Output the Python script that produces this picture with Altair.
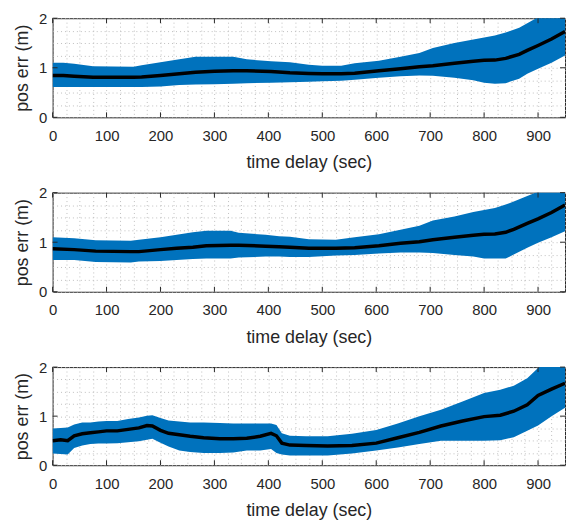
import altair as alt
import pandas as pd

X_DOMAIN = [0, 950]
Y_DOMAIN = [0, 2]
x_major = [0, 100, 200, 300, 400, 500, 600, 700, 800, 900]
y_major = [0, 1, 2]
x_minor = list(range(0, 951, 25))
y_minor = [0, 0.25, 0.5, 0.75, 1, 1.25, 1.5, 1.75, 2]

x_title = "time delay (sec)"
y_title = "pos err (m)"

# panel 1
t1 = [0, 20, 40, 75, 150, 165, 200, 235, 265, 300, 335, 360, 405, 440, 475, 500, 535, 560, 605, 645,
      680, 705, 745, 780, 800, 820, 840, 865, 880, 900, 925, 950]
m1 = [0.845, 0.845, 0.83, 0.81, 0.81, 0.815, 0.845, 0.88, 0.91, 0.93, 0.94, 0.94, 0.925, 0.90, 0.885, 0.88, 0.88, 0.89, 0.94, 0.98,
      1.02, 1.04, 1.09, 1.13, 1.15, 1.155, 1.19, 1.27, 1.35, 1.45, 1.58, 1.73]
lo1 = [0.61, 0.61, 0.61, 0.61, 0.61, 0.61, 0.62, 0.65, 0.66, 0.67, 0.68, 0.69, 0.70, 0.71, 0.72, 0.73, 0.74, 0.76, 0.80, 0.83,
       0.845, 0.84, 0.80, 0.75, 0.70, 0.68, 0.69, 0.78, 0.88, 0.98, 1.10, 1.25]
up1 = [1.10, 1.10, 1.08, 1.03, 1.02, 1.05, 1.11, 1.17, 1.22, 1.22, 1.22, 1.17, 1.13, 1.11, 1.06, 1.04, 1.04, 1.09, 1.14, 1.22,
       1.30, 1.40, 1.50, 1.57, 1.61, 1.65, 1.71, 1.81, 1.90, 2.02, 2.12, 2.22]

# panel 2
t2 = [0, 40, 80, 145, 160, 200, 230, 260, 285, 330, 345, 395, 420, 440, 475, 525, 560, 605, 645, 680,
      705, 745, 780, 800, 820, 840, 855, 880, 900, 925, 950]
m2 = [0.87, 0.85, 0.82, 0.81, 0.81, 0.85, 0.88, 0.90, 0.93, 0.94, 0.94, 0.92, 0.91, 0.90, 0.88, 0.88, 0.89, 0.93, 0.98, 1.01,
      1.05, 1.10, 1.14, 1.16, 1.165, 1.20, 1.26, 1.38, 1.47, 1.60, 1.75]
lo2 = [0.64, 0.64, 0.60, 0.59, 0.61, 0.62, 0.64, 0.66, 0.67, 0.67, 0.69, 0.71, 0.71, 0.70, 0.70, 0.73, 0.74, 0.77, 0.79, 0.79,
       0.78, 0.74, 0.71, 0.67, 0.67, 0.67, 0.75, 0.89, 0.99, 1.10, 1.22]
up2 = [1.10, 1.08, 1.04, 1.03, 1.05, 1.10, 1.15, 1.20, 1.23, 1.23, 1.19, 1.15, 1.12, 1.11, 1.06, 1.05, 1.10, 1.16, 1.25, 1.33,
       1.44, 1.52, 1.61, 1.65, 1.69, 1.76, 1.82, 1.93, 2.02, 2.12, 2.22]

# panel 3
t3 = [0, 15, 28, 40, 55, 70, 85, 100, 120, 140, 160, 175, 185, 200, 215, 235, 255, 280, 310, 335,
      360, 385, 405, 415, 425, 440, 470, 510, 555, 600, 640, 680, 720, 760, 800, 830, 855, 880, 900, 925, 950]
m3 = [0.50, 0.52, 0.50, 0.60, 0.64, 0.66, 0.68, 0.70, 0.70, 0.73, 0.76, 0.81, 0.80, 0.71, 0.65, 0.62, 0.59, 0.56, 0.54, 0.54,
      0.55, 0.59, 0.65, 0.60, 0.45, 0.41, 0.40, 0.39, 0.40, 0.45, 0.56, 0.67, 0.80, 0.90, 0.99, 1.02, 1.10, 1.23, 1.42, 1.55, 1.67]
lo3 = [0.24, 0.23, 0.22, 0.35, 0.40, 0.43, 0.44, 0.44, 0.45, 0.47, 0.49, 0.52, 0.54, 0.46, 0.38, 0.30, 0.27, 0.25, 0.25, 0.26,
       0.30, 0.30, 0.33, 0.25, 0.22, 0.20, 0.20, 0.20, 0.24, 0.30, 0.36, 0.43, 0.50, 0.50, 0.50, 0.51, 0.57, 0.70, 0.81, 1.00, 1.17]
up3 = [0.75, 0.76, 0.77, 0.83, 0.87, 0.87, 0.89, 0.90, 0.90, 0.94, 0.97, 1.01, 1.02, 0.96, 0.91, 0.89, 0.87, 0.87, 0.86, 0.85,
       0.85, 0.85, 0.85, 0.82, 0.65, 0.60, 0.59, 0.59, 0.64, 0.72, 0.85, 1.00, 1.13, 1.30, 1.47, 1.54, 1.62, 1.77, 1.98, 2.12, 2.22]

W = 517
FONT = "Liberation Sans, Arial, sans-serif"
AX = "#262626"
BAND = "#0072BD"
TICK = 5


def panel(t, m, lo, up, h):
    df = pd.DataFrame({"t": t, "m": m, "lo": lo, "up": up})
    xs = alt.Scale(domain=X_DOMAIN, nice=False, zero=False)
    ys = alt.Scale(domain=Y_DOMAIN, nice=False, zero=False)
    xaxis = alt.Axis(values=x_minor, labelExpr="datum.value % 100 == 0 ? datum.label : ''",
                     title=x_title, grid=True, domain=False, ticks=False, labelPadding=11,
                     titlePadding=11, labelFlush=False)
    yaxis = alt.Axis(values=y_minor, labelExpr="datum.value % 1 == 0 ? format(datum.value, 'd') : ''",
                     title=y_title, grid=True, domain=False, ticks=False, labelPadding=6,
                     titlePadding=7)
    X = lambda f: alt.X(f, scale=xs, axis=xaxis, title=x_title)
    Y = lambda f: alt.Y(f, scale=ys, axis=yaxis, title=y_title)
    band = alt.Chart(df).mark_area(color=BAND, clip=True, opacity=1).encode(
        x=X("t:Q"), y=Y("lo:Q"), y2="up:Q",
    )
    line = alt.Chart(df).mark_line(color="black", strokeWidth=3.5, clip=True).encode(
        x=X("t:Q"), y=Y("m:Q"),
    )
    xt = pd.DataFrame({"v": x_major})
    yt = pd.DataFrame({"v": y_major})
    bot = alt.Chart(xt).mark_rule(color=AX, strokeWidth=1).encode(
        x=X("v:Q"), y=alt.value(h), y2=alt.value(h - TICK))
    top = alt.Chart(xt).mark_rule(color=AX, strokeWidth=1).encode(
        x=X("v:Q"), y=alt.value(0), y2=alt.value(TICK))
    left = alt.Chart(yt).mark_rule(color=AX, strokeWidth=1).encode(
        y=Y("v:Q"), x=alt.value(0), x2=alt.value(TICK))
    right = alt.Chart(yt).mark_rule(color=AX, strokeWidth=1).encode(
        y=Y("v:Q"), x=alt.value(W), x2=alt.value(W - TICK))
    return alt.layer(band, line, bot, top, left, right).properties(width=W, height=h)


chart = alt.vconcat(
    panel(t1, m1, lo1, up1, 100),
    panel(t2, m2, lo2, up2, 100),
    panel(t3, m3, lo3, up3, 99),
    spacing=12,
).properties(
    padding={"left": 5, "top": 0, "right": 0, "bottom": 0},
    background="white",
).configure_view(
    stroke=AX, strokeWidth=1
).configure_axis(
    labelFont=FONT, titleFont=FONT, labelFontSize=15, titleFontSize=18,
    titleFontWeight="normal", labelColor=AX, titleColor=AX,
    gridColor="#b8b8b8", gridDash=[1, 3], gridWidth=1, gridOpacity=0.9,
)

chart.save("out.html", embed_options={"renderer": "svg", "actions": False})
